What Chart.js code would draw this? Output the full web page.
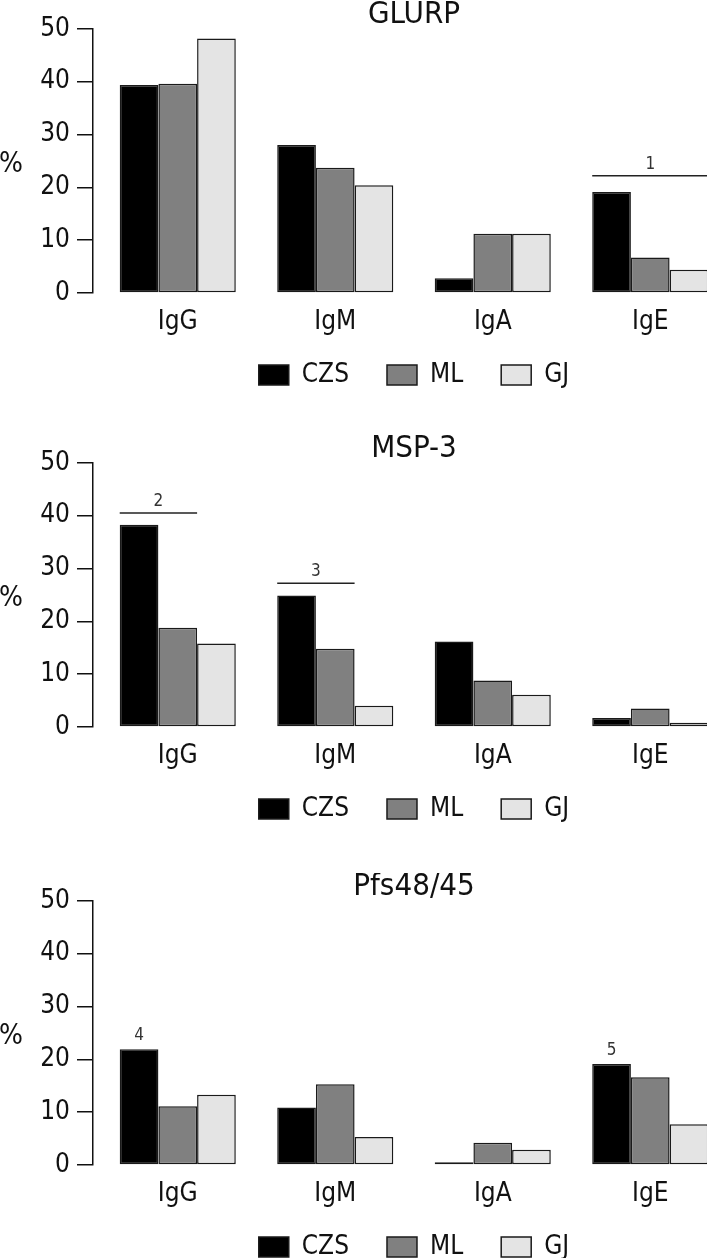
<!DOCTYPE html>
<html>
<head>
<meta charset="utf-8">
<script src="https://cdn.jsdelivr.net/npm/chart.js@4.4.1/dist/chart.umd.min.js"></script>
<style>
    html, body { margin: 0; padding: 0; background: #fff; width: 707px; height: 1258px; overflow: hidden; }
    .panel { position: absolute; left: 0; }
</style>
</head>
<body>
<div class="panel" style="top:1px"><canvas id="glurpChart" width="729" height="428"></canvas></div>
<div class="panel" style="top:435px"><canvas id="msp3Chart" width="729" height="428"></canvas></div>
<div class="panel" style="top:873px"><canvas id="pfsChart" width="729" height="428"></canvas></div>
<script>
// Categories and groups
const isotypes = ['IgG', 'IgM', 'IgA', 'IgE'];
const groups = ['CZS', 'ML', 'GJ'];
const yTicks = [0, 10, 20, 30, 40, 50];

// GLURP (% positive)
const glurpCZS = [39.4, 28.0, 2.8, 19.1];
const glurpML = [39.6, 23.7, 11.2, 6.7];
const glurpGJ = [48.2, 20.4, 11.2, 4.4];

// MSP-3
const msp3CZS = [38.3, 24.9, 16.2, 1.7];
const msp3ML = [18.8, 14.8, 8.8, 3.5];
const msp3GJ = [15.8, 4.0, 6.1, 0.8];

// Pfs48/45
const pfsCZS = [21.9, 10.9, 0.5, 19.1];
const pfsML = [11.1, 15.3, 4.2, 16.6];
const pfsGJ = [13.3, 5.3, 2.9, 7.7];

// Significance marks: category index, first/last group index, level in %
const glurpMarks = [{ label: '1', category: 3, from: 0, to: 2, value: 22.2, line: true }];
const msp3Marks = [
    { label: '2', category: 0, from: 0, to: 1, value: 40.5, line: true },
    { label: '3', category: 1, from: 0, to: 1, value: 27.2, line: true }
];
const pfsMarks = [
    { label: '4', category: 0, from: 0, to: 0, value: 23.7, line: false },
    { label: '5', category: 3, from: 0, to: 0, value: 20.8, line: false }
];

const FONT = "'DejaVu Sans Condensed', 'Liberation Sans Narrow', sans-serif";
const INK = '#111';
const fills = ['#000000', '#808080', '#e4e4e4'];

// marks, "%" label, R-style detached y axis and legend pulled up under the labels
const markPlugin = {
    id: 'marks',
    afterLayout(chart) {
        const s = chart.scales.y;
        s.left -= 6;
        s.right -= 6;
        chart.legend.top -= 31;
        chart.legend.bottom -= 31;
    },
    afterDatasetsDraw(chart, args, opts) {
        const ctx = chart.ctx;
        const yScale = chart.scales.y;
        const area = chart.chartArea;
        ctx.save();
        ctx.fillStyle = INK;
        ctx.font = '28px ' + FONT;
        ctx.textAlign = 'center';
        ctx.textBaseline = 'middle';
        ctx.fillText('%', 11, (area.top + area.bottom) / 2 + 4);

        ctx.strokeStyle = '#222';
        ctx.lineWidth = 1.5;
        ctx.fillStyle = '#333';
        ctx.font = '17px ' + FONT;
        ctx.textBaseline = 'alphabetic';
        (opts.marks || []).forEach(m => {
            const first = chart.getDatasetMeta(m.from).data[m.category];
            const last = chart.getDatasetMeta(m.to).data[m.category];
            const x1 = first.x - first.width / 2;
            const x2 = last.x + last.width / 2;
            const py = yScale.getPixelForValue(m.value);
            if (m.line) {
                ctx.beginPath();
                ctx.moveTo(x1, py);
                ctx.lineTo(x2, py);
                ctx.stroke();
                ctx.fillText(m.label, (x1 + x2) / 2, py - 7);
            } else {
                ctx.fillText(m.label, (x1 + x2) / 2, py);
            }
        });
        ctx.restore();
    }
};

function renderPanel(id, title, series, marks) {
    const ctx = document.getElementById(id).getContext('2d');

    new Chart(ctx, {
        type: 'bar',
        data: {
            labels: isotypes,
            datasets: series.map((values, i) => ({
                label: groups[i],
                data: values,
                backgroundColor: fills[i],
                borderColor: '#1a1a1a',
                borderWidth: 1.5,
                borderSkipped: false,
                categoryPercentage: 0.737,
                barPercentage: 1.0
            }))
        },
        options: {
            responsive: false,
            animation: false,
            events: [],
            layout: { padding: 0 },
            plugins: {
                title: {
                    display: true,
                    text: title,
                    color: INK,
                    fullSize: false,
                    padding: 0,
                    font: { family: FONT, size: 31, weight: 'normal', lineHeight: 0.9 }
                },
                legend: {
                    position: 'bottom',
                    fullSize: false,
                    labels: {
                        boxWidth: 30,
                        boxHeight: 20,
                        padding: 38,
                        color: INK,
                        font: { family: FONT, size: 26 }
                    }
                },
                tooltip: { enabled: false },
                marks: { marks: marks }
            },
            scales: {
                x: {
                    grid: { display: false, drawTicks: false },
                    border: { display: false },
                    ticks: { color: INK, padding: 14, font: { family: FONT, size: 26 } },
                    afterFit: s => { s.height = 62; }
                },
                y: {
                    min: 0,
                    max: 50,
                    afterBuildTicks: s => { s.ticks = yTicks.map(v => ({ value: v })); },
                    grid: { drawOnChartArea: false, drawTicks: true, tickLength: 16, color: INK, lineWidth: 1.5 },
                    border: { display: true, color: INK, width: 1.5 },
                    ticks: { color: INK, padding: 7, font: { family: FONT, size: 26 } },
                    afterFit: s => { s.width = 99; }
                }
            }
        },
        plugins: [markPlugin]
    });
}

renderPanel('glurpChart', 'GLURP', [glurpCZS, glurpML, glurpGJ], glurpMarks);
renderPanel('msp3Chart', 'MSP-3', [msp3CZS, msp3ML, msp3GJ], msp3Marks);
renderPanel('pfsChart', 'Pfs48/45', [pfsCZS, pfsML, pfsGJ], pfsMarks);
</script>
</body>
</html>
